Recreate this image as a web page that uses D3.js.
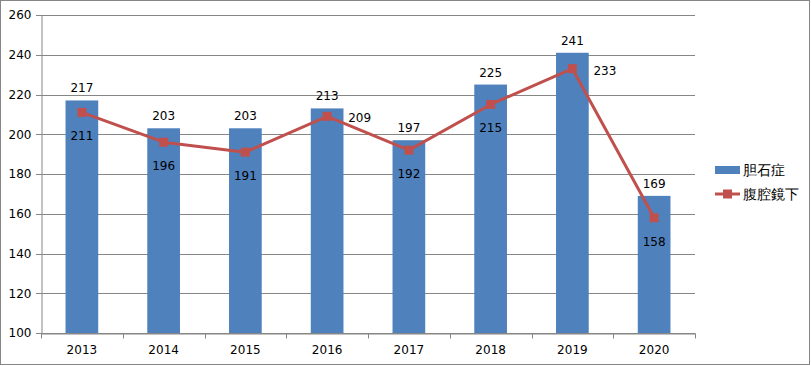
<!DOCTYPE html>
<html>
<head>
<meta charset="utf-8">
<script src="https://cdn.jsdelivr.net/npm/d3@7"></script>
<style>
  body { margin: 0; background: #fff; }
  text { font-family: "DejaVu Sans", Verdana, sans-serif; fill: #000; }
</style>
</head>
<body>
<svg id="chart"></svg>
<script>
let years = ['2013', '2014', '2015', '2016', '2017', '2018', '2019', '2020'];
let gallstone = [217, 203, 203, 213, 197, 225, 241, 169];
let laparoscopic = [211, 196, 191, 209, 192, 215, 233, 158];
let lineLabelSide = ['below', 'below', 'below', 'right', 'below', 'below', 'right', 'below'];
let yTicks = [100, 120, 140, 160, 180, 200, 220, 240, 260];
let seriesNames = ['胆石症', '腹腔鏡下'];

let width = 811;
let height = 366;
let margin = {top: 15, right: 116, bottom: 33, left: 41};
let barColor = '#4F81BD';
let lineColor = '#C0504D';
let gridColor = '#868686';

let svg = d3.select('#chart')
    .attr('width', width)
    .attr('height', height);

svg.append('rect')
    .attr('x', 0.5).attr('y', 0.5)
    .attr('width', width - 2).attr('height', height - 2)
    .attr('fill', '#fff')
    .attr('stroke', '#868686');

let x = d3.scaleBand()
    .domain(years)
    .range([margin.left, width - margin.right]);

let y = d3.scaleLinear()
    .domain([100, 260])
    .range([height - margin.bottom, margin.top]);

let g = svg.append('g');

// gridlines
g.append('g')
    .selectAll('line')
    .data(yTicks)
    .join('line')
    .attr('x1', margin.left - 5)
    .attr('x2', width - margin.right)
    .attr('y1', d => Math.round(y(d)) + 0.5)
    .attr('y2', d => Math.round(y(d)) + 0.5)
    .attr('stroke', gridColor)
    .attr('stroke-width', 1);

// y axis
let yAxis = d3.axisLeft(y).tickValues(yTicks).tickSize(0).tickPadding(10);
g.append('g')
    .attr('transform', `translate(${margin.left + 0.5},0)`)
    .call(yAxis)
    .call(a => a.select('.domain').attr('stroke', gridColor))
    .call(a => a.selectAll('text').attr('font-size', 12).attr('font-family', 'DejaVu Sans, sans-serif'));

// bars
g.append('g')
    .selectAll('rect')
    .data(gallstone)
    .join('rect')
    .attr('x', (d, i) => x(years[i]) + x.bandwidth() * 0.3)
    .attr('width', x.bandwidth() * 0.4)
    .attr('y', d => y(d))
    .attr('height', d => y(100) - y(d))
    .attr('fill', barColor);

// x axis
let xAxis = d3.axisBottom(x).tickSize(0).tickPadding(12);
let xg = g.append('g')
    .attr('transform', `translate(0,${Math.round(y(100)) + 0.5})`)
    .call(xAxis)
    .call(a => a.select('.domain').attr('stroke', gridColor))
    .call(a => a.selectAll('text').attr('font-size', 12).attr('font-family', 'DejaVu Sans, sans-serif'));

xg.selectAll('.sep')
    .data(years.concat(['end']))
    .join('line')
    .attr('class', 'sep')
    .attr('x1', (d, i) => Math.round(margin.left + i * x.step()) + 0.5)
    .attr('x2', (d, i) => Math.round(margin.left + i * x.step()) + 0.5)
    .attr('y1', 0)
    .attr('y2', 5)
    .attr('stroke', gridColor);

// bar labels
g.append('g')
    .selectAll('text')
    .data(gallstone)
    .join('text')
    .attr('x', (d, i) => x(years[i]) + x.bandwidth() / 2)
    .attr('y', d => y(d) - 8)
    .attr('text-anchor', 'middle')
    .attr('font-size', 12)
    .text(d => d);

// line
let line = d3.line()
    .x((d, i) => x(years[i]) + x.bandwidth() / 2)
    .y(d => y(d));

g.append('path')
    .datum(laparoscopic)
    .attr('d', line)
    .attr('fill', 'none')
    .attr('stroke', lineColor)
    .attr('stroke-width', 3)
    .attr('stroke-linejoin', 'round');

g.append('g')
    .selectAll('rect')
    .data(laparoscopic)
    .join('rect')
    .attr('x', (d, i) => x(years[i]) + x.bandwidth() / 2 - 4.5)
    .attr('y', d => y(d) - 4.5)
    .attr('width', 9)
    .attr('height', 9)
    .attr('fill', lineColor);

// line labels
g.append('g')
    .selectAll('text')
    .data(laparoscopic)
    .join('text')
    .attr('x', (d, i) => x(years[i]) + x.bandwidth() / 2 + (lineLabelSide[i] === 'right' ? 21 : 0))
    .attr('y', (d, i) => y(d) + (lineLabelSide[i] === 'right' ? 6 : 28))
    .attr('text-anchor', (d, i) => lineLabelSide[i] === 'right' ? 'start' : 'middle')
    .attr('font-size', 12)
    .text(d => d);

// legend
let legend = svg.append('g')
    .attr('transform', 'translate(715,170)');

legend.append('rect')
    .attr('x', 0).attr('y', -4)
    .attr('width', 25).attr('height', 8)
    .attr('fill', barColor);

legend.append('line')
    .attr('x1', 0).attr('x2', 25)
    .attr('y1', 24).attr('y2', 24)
    .attr('stroke', lineColor)
    .attr('stroke-width', 3);

legend.append('rect')
    .attr('x', 8).attr('y', 19.5)
    .attr('width', 9).attr('height', 9)
    .attr('fill', lineColor);

legend.selectAll('text.lg')
    .data(seriesNames)
    .join('text')
    .attr('class', 'lg')
    .attr('x', 28)
    .attr('y', (d, i) => i * 24 + 5)
    .attr('font-size', 14)
    .attr('font-family', '"Noto Sans CJK JP", sans-serif')
    .text(d => d);
</script>
</body>
</html>
